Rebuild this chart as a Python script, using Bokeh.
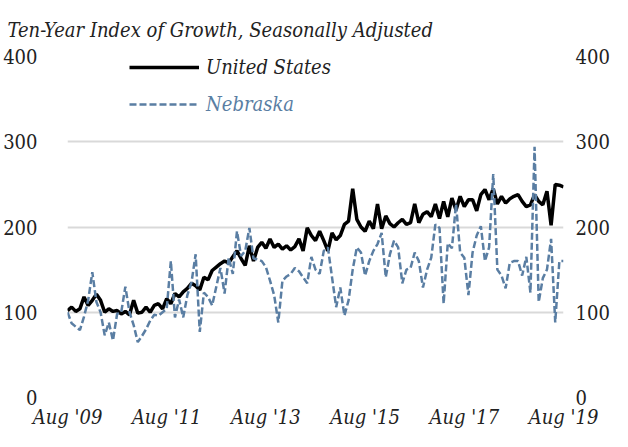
from bokeh.plotting import figure
from bokeh.models import Range1d, LinearAxis, FixedTicker, Legend, LegendItem
from bokeh.embed import file_html
from bokeh.resources import INLINE

title_text = "Ten-Year Index of Growth, Seasonally Adjusted"
months = list(range(121))
tick_months = [0, 24, 48, 72, 96, 120]
tick_labels = ["Aug '09", "Aug '11", "Aug '13", "Aug '15", "Aug '17", "Aug '19"]
y_ticks = [0, 100, 200, 300, 400]

us = [102, 106, 101, 104, 118, 108, 114, 121, 114, 100,
      104, 101, 102, 98, 101, 97, 114, 99, 100, 106,
      100, 108, 110, 104, 116, 110, 122, 118, 124, 128,
      134, 131, 126, 141, 138, 149, 153, 157, 160, 158,
      165, 172, 163, 155, 178, 160, 176, 182, 175, 186,
      176, 180, 174, 178, 173, 177, 186, 172, 199, 190,
      184, 195, 184, 172, 193, 185, 190, 203, 207, 245,
      209, 200, 195, 207, 198, 227, 198, 213, 204, 200,
      205, 209, 203, 205, 227, 205, 215, 218, 212, 227,
      210, 230, 212, 234, 220, 236, 224, 232, 232, 219,
      238, 244, 232, 245, 227, 236, 228, 233, 236, 238,
      230, 224, 226, 238, 230, 226, 242, 202, 250, 249,
      247]

ne = [100, 87, 83, 79, 95, 114, 147, 112, 100, 73,
      88, 67, 98, 100, 130, 100, 85, 65, 72, 80,
      90, 97, 96, 100, 104, 160, 94, 115, 94, 120,
      135, 168, 77, 123, 118, 108, 130, 152, 122, 164,
      145, 195, 166, 172, 199, 163, 162, 160, 153, 137,
      120, 88, 137, 142, 145, 152, 148, 141, 134, 165,
      150, 145, 172, 176, 141, 106, 129, 96, 114, 150,
      176, 170, 143, 160, 172, 180, 193, 141, 168, 184,
      176, 134, 150, 152, 170, 160, 129, 150, 164, 203,
      199, 110, 181, 175, 227, 170, 164, 120, 170, 190,
      201, 160, 176, 262, 150, 143, 128, 158, 160, 160,
      143, 165, 123, 294, 112, 140, 150, 186, 88, 160,
      160]

TEXT = "#222222"
NE_COLOR = "#5a7ea3"
FONT = "DejaVu Serif Condensed"

p = figure(width=612, height=431, output_backend="svg", toolbar_location=None,
           x_range=Range1d(0, 120), y_range=Range1d(0, 400),
           min_border_left=62, min_border_right=0, min_border_top=0,
           min_border_bottom=0)

p.title.text = title_text
p.title.text_font = FONT
p.title.text_font_style = "italic"
p.title.text_font_size = "20px"
p.title.text_color = TEXT
p.title.align = "left"
p.title.offset = -60
p.title.standoff = 30

p.outline_line_color = None
p.background_fill_color = "white"
p.border_fill_color = "white"

p.xgrid.visible = False
p.ygrid.ticker = FixedTicker(ticks=y_ticks)
p.ygrid.grid_line_color = "#d9d9d9"
p.ygrid.grid_line_width = 2

xa = p.xaxis[0]
xa.ticker = FixedTicker(ticks=tick_months)
xa.major_label_overrides = {m: l for m, l in zip(tick_months, tick_labels)}
xa.axis_line_color = None
xa.major_tick_line_color = None
xa.minor_tick_line_color = None
xa.major_tick_out = 0
xa.major_tick_in = 0
xa.minor_tick_out = 0
xa.major_label_text_font = FONT
xa.major_label_text_font_style = "italic"
xa.major_label_text_font_size = "20px"
xa.major_label_text_color = TEXT
xa.major_label_standoff = 7

ya = p.yaxis[0]
ra = LinearAxis()
p.add_layout(ra, "right")
for ax in (ya, ra):
    ax.ticker = FixedTicker(ticks=y_ticks)
    ax.axis_line_color = None
    ax.major_tick_line_color = None
    ax.minor_tick_line_color = None
    ax.major_tick_out = 0
    ax.major_tick_in = 0
    ax.minor_tick_out = 0
    ax.major_label_text_font = FONT
    ax.major_label_text_font_size = "20px"
    ax.major_label_text_color = TEXT
ya.major_label_standoff = 30
ra.major_label_standoff = 12

r_us = p.line(months, us, line_color="black", line_width=3.5)
r_ne = p.line(months, ne, line_color=NE_COLOR, line_width=2.5, line_dash="7 3")


def make_legend(label, rend, loc, color):
    lg = Legend(items=[LegendItem(label=label, renderers=[rend])], location=loc)
    lg.background_fill_alpha = 0
    lg.border_line_alpha = 0
    lg.padding = 0
    lg.margin = 0
    lg.spacing = 0
    lg.glyph_width = 70
    lg.glyph_height = 20
    lg.label_height = 20
    lg.label_standoff = 7
    lg.label_text_font = FONT
    lg.label_text_font_style = "italic"
    lg.label_text_font_size = "20px"
    lg.label_text_color = color
    return lg


p.add_layout(make_legend("United States", r_us, (62, 318), TEXT))
p.add_layout(make_legend("Nebraska", r_ne, (62, 281), NE_COLOR))

open("out.html", "w").write(file_html(p, INLINE))
